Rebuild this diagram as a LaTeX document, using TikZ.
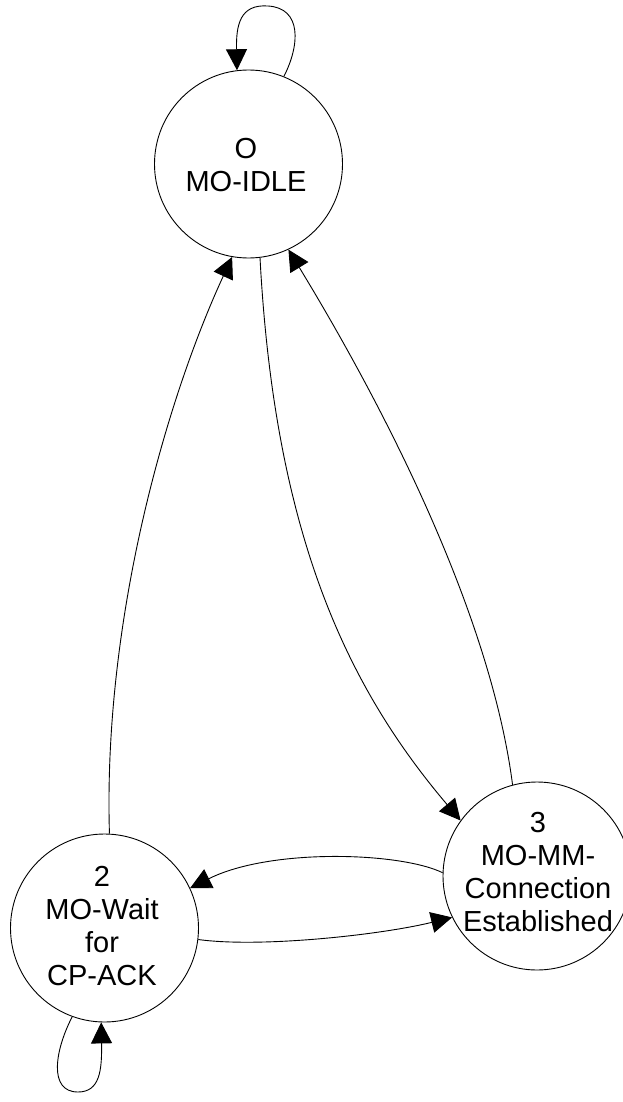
\documentclass[tikz,border=0pt]{standalone}
\usepackage{fontspec}
\setmainfont{Liberation Sans}
\usetikzlibrary{arrows.meta}
\tikzset{
  state/.style={draw, circle, line width=0.9pt, minimum size=188pt, inner sep=0pt},
  label/.style={font=\fontsize{29}{33.3}\selectfont, align=center, inner sep=0pt},
  edge/.style={line width=0.9pt, -{Triangle[length=21pt,width=21pt]}},
  plain/.style={line width=0.9pt}
}
\begin{document}
\begin{tikzpicture}[x=1pt,y=-1pt]
\useasboundingbox (0,0) rectangle (623,1102);
\node[state] (s0) at (248.5,164) {};
\node[state] (s2) at (104.5,928) {};
\node[state] (s3) at (537,876) {};
\node[label] (t0) at (246,165) {O\\MO-IDLE};
\node[label] (t2) at (102,926) {2\\MO-Wait\\for\\CP-ACK};
\node[label] (t3) at (538,872) {3\\MO-MM-\\Connection\\Established};
% self loop on s0
\draw[edge] (s0.68) .. controls (300,45) and (302,8) .. (268,6)
  .. controls (240,4) and (236,25) .. (s0.97);
% self loop on s2
\draw[edge] (s2.250) .. controls (55,1050) and (48,1092) .. (78,1092)
  .. controls (100,1092) and (102,1070) .. (s2.268);
% s2 -> s0
\draw[edge] (s2.87) .. controls (103,620) and (166,400) .. (s0.260);
% s0 -> s3
\draw[edge] (s0.277) .. controls (275,540) and (350,690) .. (s3.144);
% s3 -> s0
\draw[edge] (s3.105) .. controls (490,610) and (380,400) .. (s0.295);
% s3 -> s2
\draw[edge] (s3.178) .. controls (400,852) and (270,848) .. (s2.25);
% s2 -> s3
\draw[edge] (s2.353) .. controls (260,948) and (380,935) .. (s3.206);
\end{tikzpicture}
\end{document}
